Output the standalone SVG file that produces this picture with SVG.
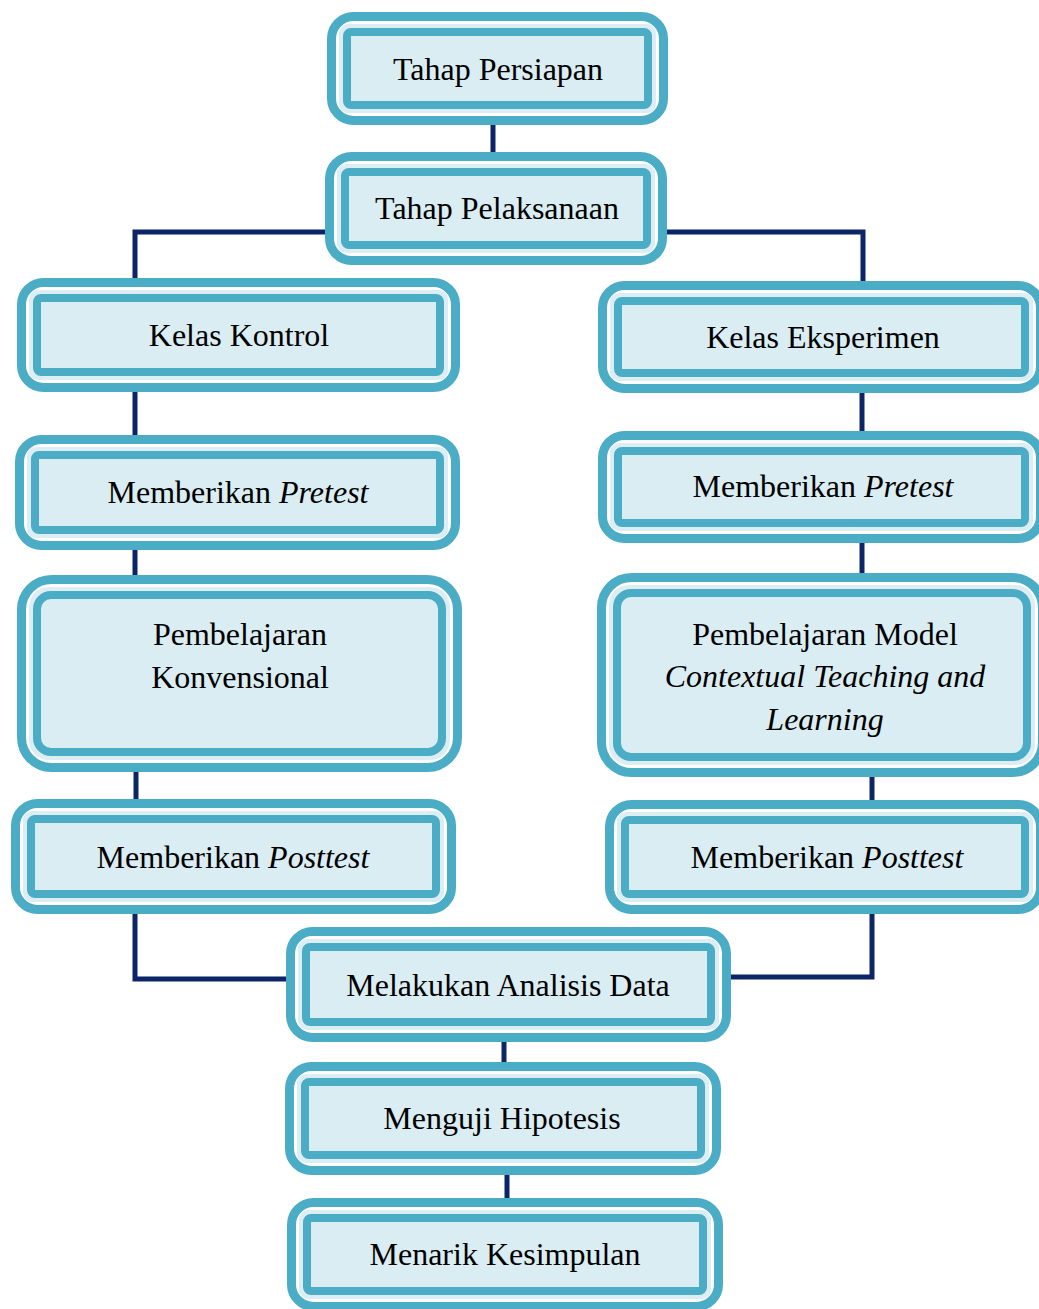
<svg xmlns="http://www.w3.org/2000/svg" width="1039" height="1309" viewBox="0 0 1039 1309">
<style>
.o{fill:#fff;stroke:#4BACC6;stroke-width:9}
.b{fill:#DCEEF4}
.i{fill:#DAEDF3;stroke:#4BACC6;stroke-width:8}
.t{font-family:"Liberation Serif","Times New Roman",serif;font-size:32px;fill:#000;text-anchor:middle}
.c{fill:none;stroke:#0B2566;stroke-width:5;stroke-linejoin:miter}
</style>
<rect width="1039" height="1309" fill="#fff"/>
<g id="connectors">
<path class="c" d="M493 125V152"/>
<path class="c" d="M327 232H135V280"/>
<path class="c" d="M665 232H863V283"/>
<path class="c" d="M135 390V437"/>
<path class="c" d="M135 548V577"/>
<path class="c" d="M136 770V801"/>
<path class="c" d="M862 391V433"/>
<path class="c" d="M862 541V575"/>
<path class="c" d="M872 775V802"/>
<path class="c" d="M135 912V979H296"/>
<path class="c" d="M872 912V977H729"/>
<path class="c" d="M504 1040V1064"/>
<path class="c" d="M507 1173V1200"/>
</g>
<g id="n1"><rect class="o" x="331.5" y="16.5" width="332" height="104" rx="22"/><rect class="b" x="339" y="24" width="317" height="89" rx="9"/><rect class="i" x="347" y="32" width="301" height="73" rx="4"/><text class="t" x="498" y="80">Tahap Persiapan</text></g>
<g id="n2"><rect class="o" x="329.5" y="156.5" width="333" height="104" rx="22"/><rect class="b" x="337" y="164" width="318" height="89" rx="9"/><rect class="i" x="345" y="172" width="302" height="73" rx="4"/><text class="t" x="497" y="219">Tahap Pelaksanaan</text></g>
<g id="n3"><rect class="o" x="21.5" y="282.5" width="434" height="105" rx="22"/><rect class="b" x="29" y="290" width="419" height="90" rx="9"/><rect class="i" x="37" y="298" width="403" height="74" rx="4"/><text class="t" x="239" y="346">Kelas Kontrol</text></g>
<g id="n4"><rect class="o" x="19.5" y="439.5" width="436" height="106" rx="22"/><rect class="b" x="27" y="447" width="421" height="91" rx="9"/><rect class="i" x="35" y="455" width="405" height="75" rx="4"/><text class="t" x="238" y="503">Memberikan <tspan font-style="italic">Pretest</tspan></text></g>
<g id="n5"><rect class="o" x="21.5" y="579.5" width="436" height="188" rx="30"/><rect class="b" x="29" y="587" width="421" height="173" rx="20"/><rect class="i" x="37" y="595" width="405" height="157" rx="14"/><text class="t" x="240" y="645">Pembelajaran</text><text class="t" x="240" y="688">Konvensional</text></g>
<g id="n6"><rect class="o" x="15.5" y="803.5" width="436" height="106" rx="22"/><rect class="b" x="23" y="811" width="421" height="91" rx="9"/><rect class="i" x="31" y="819" width="405" height="75" rx="4"/><text class="t" x="233" y="868">Memberikan <tspan font-style="italic">Posttest</tspan></text></g>
<g id="n7"><rect class="o" x="602.5" y="285.5" width="438" height="103" rx="22"/><rect class="b" x="610" y="293" width="423" height="88" rx="9"/><rect class="i" x="618" y="301" width="407" height="72" rx="4"/><text class="t" x="823" y="348">Kelas Eksperimen</text></g>
<g id="n8"><rect class="o" x="602.5" y="435.5" width="438" height="103" rx="22"/><rect class="b" x="610" y="443" width="423" height="88" rx="9"/><rect class="i" x="618" y="451" width="407" height="72" rx="4"/><text class="t" x="823" y="497">Memberikan <tspan font-style="italic">Pretest</tspan></text></g>
<g id="n9"><rect class="o" x="601.5" y="577.5" width="441" height="195" rx="30"/><rect class="b" x="609" y="585" width="426" height="180" rx="20"/><rect class="i" x="617" y="593" width="410" height="164" rx="14"/><text class="t" x="825" y="645">Pembelajaran Model</text><text class="t" x="825" y="687" font-style="italic">Contextual Teaching and</text><text class="t" x="825" y="730" font-style="italic">Learning</text></g>
<g id="n10"><rect class="o" x="609.5" y="804.5" width="431" height="105" rx="22"/><rect class="b" x="617" y="812" width="416" height="90" rx="9"/><rect class="i" x="625" y="820" width="400" height="74" rx="4"/><text class="t" x="827" y="868">Memberikan <tspan font-style="italic">Posttest</tspan></text></g>
<g id="n11"><rect class="o" x="290.5" y="931.5" width="436" height="106" rx="22"/><rect class="b" x="298" y="939" width="421" height="91" rx="9"/><rect class="i" x="306" y="947" width="405" height="75" rx="4"/><text class="t" x="508" y="996">Melakukan Analisis Data</text></g>
<g id="n12"><rect class="o" x="289.5" y="1066.5" width="427" height="104" rx="22"/><rect class="b" x="297" y="1074" width="412" height="89" rx="9"/><rect class="i" x="305" y="1082" width="396" height="73" rx="4"/><text class="t" x="502" y="1129">Menguji Hipotesis</text></g>
<g id="n13"><rect class="o" x="291.5" y="1202.5" width="427" height="104" rx="22"/><rect class="b" x="299" y="1210" width="412" height="89" rx="9"/><rect class="i" x="307" y="1218" width="396" height="73" rx="4"/><text class="t" x="505" y="1265">Menarik Kesimpulan</text></g>
</svg>
